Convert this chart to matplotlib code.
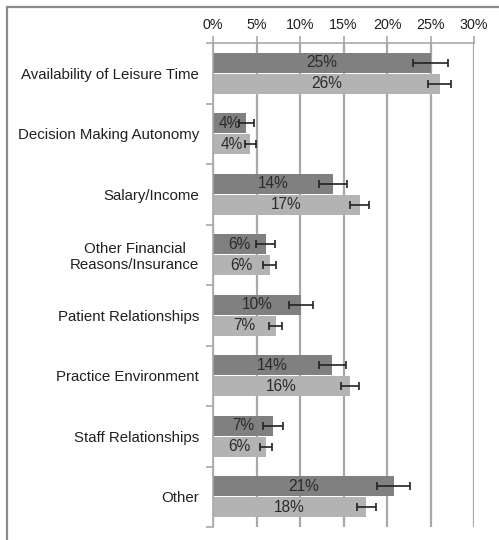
import matplotlib
matplotlib.use("Agg")
import matplotlib.pyplot as plt
from matplotlib.patches import Rectangle
import numpy as np

plt.rcParams['font.family'] = ['Liberation Sans', 'DejaVu Sans']

categories = ["Availability of Leisure Time", "Decision Making Autonomy", "Salary/Income",
              "Other Financial\nReasons/Insurance", "Patient Relationships",
              "Practice Environment", "Staff Relationships", "Other"]
series_a = [25.0, 3.85, 13.8, 6.05, 10.1, 13.7, 6.9, 20.8]
series_a_err = [2.0, 0.85, 1.6, 1.1, 1.4, 1.55, 1.2, 1.9]
series_a_labels = ["25%", "4%", "14%", "6%", "10%", "14%", "7%", "21%"]
series_b = [26.05, 4.3, 16.85, 6.5, 7.2, 15.75, 6.05, 17.6]
series_b_err = [1.3, 0.6, 1.1, 0.7, 0.75, 1.05, 0.7, 1.1]
series_b_labels = ["26%", "4%", "17%", "6%", "7%", "16%", "6%", "18%"]
x_ticks = [0, 5, 10, 15, 20, 25, 30]

fig = plt.figure(figsize=(4.99, 5.4), dpi=100)
ax = fig.add_axes([213/499, 1-527/540, (474-213)/499, (527-43)/540])

# outer frame
fig.patches.append(Rectangle((6.5/499, -0.1), 1.2, 1-7/540+0.1, transform=fig.transFigure,
                             fill=False, edgecolor='#8c8c8c', linewidth=1.6))

y = np.arange(len(categories))
h = 0.335
off = 0.175
grid_c = '#a8a8a8'
ax.set_axisbelow(True)
for t in x_ticks:
    ax.axvline(t, color=grid_c, linewidth=1.6, zorder=0)

err_kw = dict(ecolor='#222222', elinewidth=1.2, capsize=3, capthick=1.2)
ax.barh(y - off, series_a, height=h, color='#808080', xerr=series_a_err, error_kw=err_kw, zorder=2)
ax.barh(y + off, series_b, height=h, color='#b3b3b3', xerr=series_b_err, error_kw=err_kw, zorder=2)

for i in range(len(categories)):
    ax.text(series_a[i] / 2, y[i] - off, series_a_labels[i], ha='center', va='center',
            fontsize=11.2, color='#2a2a2a', zorder=3)
    ax.text(series_b[i] / 2, y[i] + off, series_b_labels[i], ha='center', va='center',
            fontsize=11.2, color='#2a2a2a', zorder=3)

ax.set_xlim(0, 30)
ax.set_ylim(len(categories) - 0.5, -0.5)
ax.xaxis.tick_top()
ax.set_xticks(x_ticks)
ax.set_xticklabels([f"{t}%" for t in x_ticks], fontsize=10.3, color='#202020')
ax.tick_params(axis='x', length=5, color=grid_c, width=1.2, pad=3, top=True, bottom=False)

ax.set_yticks(y)
ax.set_yticklabels(categories, fontsize=10.8, color='#202020', multialignment='center')
ax.tick_params(axis='y', length=0, pad=10)
ax.set_yticks(np.arange(len(categories) + 1) - 0.5, minor=True)
ax.tick_params(axis='y', which='minor', length=5, color=grid_c, width=1.2)

for s in ['right', 'bottom']:
    ax.spines[s].set_visible(False)
ax.spines['left'].set_color(grid_c)
ax.spines['left'].set_linewidth(1.2)
ax.spines['top'].set_color(grid_c)
ax.spines['top'].set_linewidth(1.2)

fig.savefig("out.png", dpi=100)
